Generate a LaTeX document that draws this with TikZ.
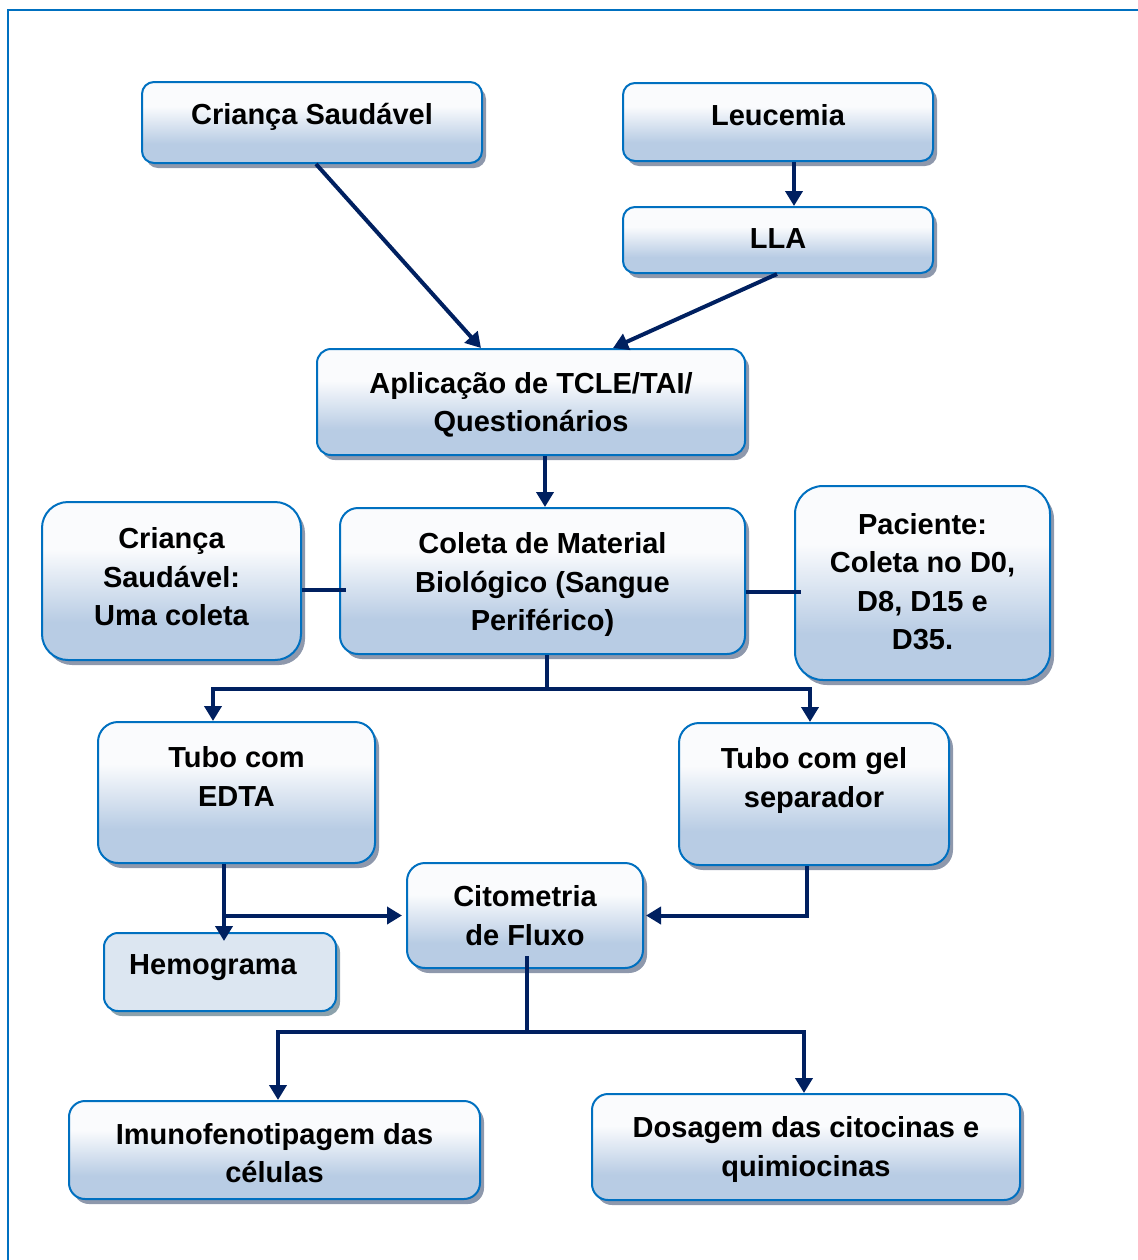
\documentclass[tikz,border=0pt]{standalone}
\usepackage{fontspec}
\setmainfont{Liberation Sans}
\usetikzlibrary{arrows.meta,shadows}

\definecolor{boxblue}{RGB}{184,204,228}
\definecolor{boxtop}{RGB}{250,251,253}
\definecolor{edge}{RGB}{0,112,192}
\definecolor{navy}{RGB}{0,32,96}
\definecolor{shadowgray}{RGB}{142,152,172}
\definecolor{hemfill}{RGB}{220,230,241}
\definecolor{hemshadow}{RGB}{140,162,172}

% white at the top fading into light blue towards the bottom
\pgfdeclareverticalshading{boxgrad}{100bp}{color(0bp)=(boxblue); color(37bp)=(boxblue); color(60bp)=(boxtop); color(100bp)=(boxtop)}

\tikzset{
  card/.style={draw=edge, line width=1pt, shading=boxgrad, inner sep=0pt,
    drop shadow={shadow xshift=2pt, shadow yshift=-2.5pt, fill=shadowgray, opacity=1}},
  flatcard/.style={draw=edge, line width=1pt, fill=hemfill, inner sep=0pt,
    drop shadow={shadow xshift=2pt, shadow yshift=-2.5pt, fill=hemshadow, opacity=1}},
  label/.style={align=center, inner sep=0pt,
    font=\fontsize{14.5pt}{19.2pt}\selectfont\bfseries},
  link/.style={draw=navy, line width=2pt},
  arrow/.style={link, -{Triangle[width=8.5pt,length=7.5pt]}},
}

\begin{document}
\begin{tikzpicture}[x=0.5pt, y=-0.5pt]
\useasboundingbox (0,0) rectangle (1137,1260);

% outer frame
\draw[edge, line width=1pt] (8,1270) |- (1145,10);

% boxes
\node (cs)   [card, rounded corners=6pt, minimum width=170pt,   minimum height=40.5pt] at (312,122.5) {};
\node (leu)  [card, rounded corners=6pt, minimum width=155pt,   minimum height=39pt]   at (778,122) {};
\node (lla)  [card, rounded corners=6pt, minimum width=155pt,   minimum height=33pt]   at (778,240) {};
\node (apl)  [card, rounded corners=7pt, minimum width=214pt,   minimum height=53pt]   at (531,402) {};
\node (cs2)  [card, rounded corners=13pt, minimum width=129.5pt, minimum height=79pt]  at (171.5,581) {};
\node (col)  [card, rounded corners=9pt, minimum width=202.5pt, minimum height=73pt]   at (542.5,581) {};
\node (pac)  [card, rounded corners=14pt, minimum width=127.5pt, minimum height=97pt]  at (922.5,583) {};
\node (edta) [card, rounded corners=10pt, minimum width=138.5pt, minimum height=70.5pt] at (236.5,792.5) {};
\node (gel)  [card, rounded corners=10pt, minimum width=135pt,   minimum height=71pt]   at (814,794) {};
\node (cit)  [card, rounded corners=9pt, minimum width=118pt,   minimum height=52.5pt] at (525,915.5) {};
\node (hem)  [flatcard, rounded corners=7pt, minimum width=116pt, minimum height=39pt] at (220,972) {};
\node (imu)  [card, rounded corners=8pt, minimum width=205.5pt, minimum height=49pt]   at (274.5,1150) {};
\node (dos)  [card, rounded corners=8pt, minimum width=214pt,   minimum height=53pt]   at (806,1147) {};

% texts
\node (cs-t)   [label] at (312,117) {Criança Saudável};
\node (leu-t)  [label] at (778,115) {Leucemia};
\node (lla-t)  [label] at (778,239) {LLA};
\node (apl-t)  [label] at (531,405) {Aplicação de TCLE/TAI/\\Questionários};
\node (cs2-t)  [label] at (171.5,577) {Criança\\Saudável:\\Uma coleta};
\node (col-t)  [label] at (542.5,584.5) {Coleta de Material\\Biológico (Sangue\\Periférico)};
\node (pac-t)  [label] at (922.5,581.5) {Paciente:\\Coleta no D0,\\D8, D15 e\\D35.};
\node (edta-t) [label] at (236.5,776.5) {Tubo com\\EDTA};
\node (gel-t)  [label] at (814,780.5) {Tubo com gel\\separador};
\node (cit-t)  [label] at (525,915.5) {Citometria\\de Fluxo};
\node (hem-t)  [label] at (213,968) {Hemograma};
\node (imu-t)  [label] at (274.5,1153) {Imunofenotipagem das\\células};
\node (dos-t)  [label] at (806,1149.5) {Dosagem das citocinas e\\quimiocinas};

% connectors
\draw[arrow] ([xshift=2pt]cs.south) -- ([xshift=-25pt]apl.north);
\draw[arrow] ([xshift=8pt]leu.south) -- ([xshift=8pt]lla.north);
\draw[arrow] ([xshift=-0.5pt]lla.south) -- ([xshift=41pt]apl.north);
\draw[arrow] ([xshift=7pt]apl.south) -- ([xshift=1.25pt]col.north);

\draw[link] ([yshift=-4.5pt]cs2.east) -- ([yshift=-4.5pt,xshift=3.5pt]col.west);
\draw[link] ([yshift=-5.5pt]col.east) -- ([yshift=-4.5pt,xshift=3.5pt]pac.west);

\coordinate (split1) at ([xshift=2.25pt,yshift=-17pt]col.south);
\draw[link] ([xshift=2.25pt]col.south) -- (split1);
\draw[arrow] (split1) -| ([xshift=-11.75pt]edta.north);
\draw[arrow] (split1) -| ([xshift=-2pt]gel.north);

\draw[arrow] ([xshift=-6.25pt]edta.south) -- ([xshift=2pt,yshift=-4.5pt]hem.north);
\draw[arrow] ([xshift=-6.25pt]edta.south) |- ([xshift=-2pt]cit.west);
\draw[arrow] ([xshift=-3.5pt]gel.south) |- ([xshift=1pt]cit.east);

\coordinate (split2) at ([xshift=1pt,yshift=-31.5pt]cit.south);
\draw[link] ([xshift=1pt,yshift=6.5pt]cit.south) -- (split2);
\draw[arrow] (split2) -| ([xshift=1.75pt]imu.north);
\draw[arrow] (split2) -| ([xshift=-1pt]dos.north);
\end{tikzpicture}
\end{document}
